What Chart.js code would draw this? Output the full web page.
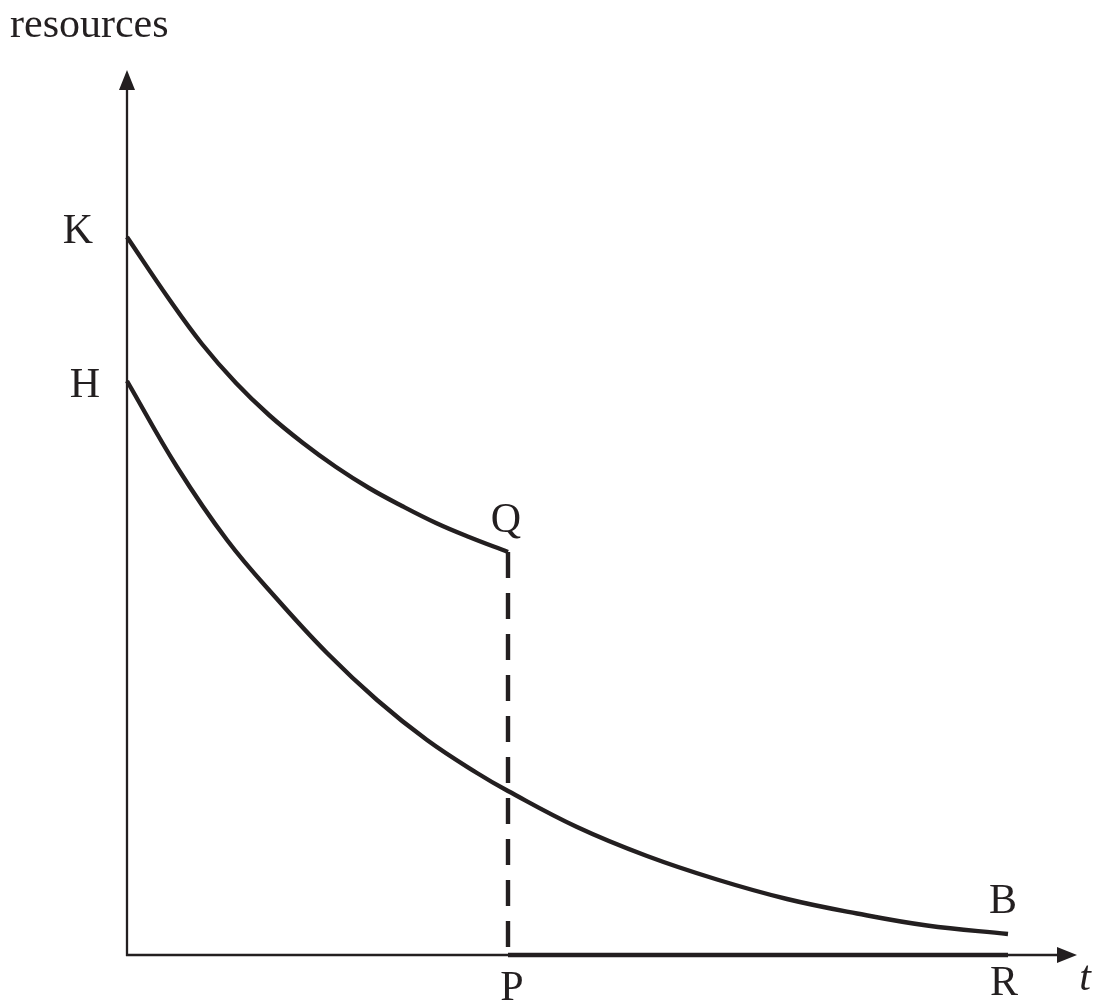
<!DOCTYPE html>
<html>
<head>
<meta charset="utf-8">
<script src="https://cdn.jsdelivr.net/npm/chart.js@4/dist/chart.umd.min.js"></script>
<style>
  html, body { margin: 0; padding: 0; background: #fff; }
  canvas { display: block; }
</style>
</head>
<body>
<canvas id="resChart" width="1096" height="1006"></canvas>
<script>
// Time values (t) and resource levels
const upperT = [0, 4.2, 7.5, 10.9, 14.2, 17.6, 20.9, 24.2, 27.5, 30.9, 34.2, 38.1];
const upperRes = [71.8, 65.6, 61.1, 57.2, 54.0, 51.2, 48.8, 46.7, 44.9, 43.2, 41.8, 40.3];

const lowerT = [0, 5, 10, 15, 20, 25, 30, 35, 38.1, 45, 52, 59, 66, 73, 80, 88.1];
const lowerRes = [57.4, 48.8, 41.5, 35.6, 30.2, 25.5, 21.5, 18.2, 16.4, 12.8, 9.9, 7.55, 5.6, 4.15, 2.95, 2.1];

// Named points on the diagram
const tP = 38.1;
const tR = 88.1;
const resQ = 40.3;

const axisMaxT = 95.3;
const axisMaxRes = 88.5;

const ink = '#231f20';

function toPoints(xs, ys) {
  return xs.map((x, i) => ({ x: x, y: ys[i] }));
}

// Axes with arrowheads, drawn under the curves
const axesPlugin = {
  id: 'axes',
  beforeDatasetsDraw(chart) {
    const ctx = chart.ctx;
    const xs = chart.scales.x, ys = chart.scales.y;
    const x0 = xs.getPixelForValue(0), y0 = ys.getPixelForValue(0);
    const xEnd = xs.getPixelForValue(axisMaxT), yEnd = ys.getPixelForValue(axisMaxRes);
    ctx.save();
    ctx.strokeStyle = ink;
    ctx.fillStyle = ink;
    ctx.lineWidth = 2.3;
    ctx.beginPath();
    ctx.moveTo(x0, y0 + 1);
    ctx.lineTo(x0, yEnd + 10);
    ctx.moveTo(x0 - 1, y0);
    ctx.lineTo(xEnd - 10, y0);
    ctx.stroke();
    // y arrow
    ctx.beginPath();
    ctx.moveTo(x0, yEnd);
    ctx.lineTo(x0 - 8, yEnd + 20);
    ctx.lineTo(x0 + 8, yEnd + 20);
    ctx.closePath();
    ctx.fill();
    // x arrow
    ctx.beginPath();
    ctx.moveTo(xEnd - 3, y0);
    ctx.lineTo(xEnd - 23, y0 - 8);
    ctx.lineTo(xEnd - 23, y0 + 8);
    ctx.closePath();
    ctx.fill();
    ctx.restore();
  }
};

// Letter labels placed next to the named points
const labelPlugin = {
  id: 'labels',
  afterDatasetsDraw(chart) {
    const ctx = chart.ctx;
    const xs = chart.scales.x, ys = chart.scales.y;
    const px = v => xs.getPixelForValue(v);
    const py = v => ys.getPixelForValue(v);
    ctx.save();
    ctx.fillStyle = ink;
    ctx.font = '42px "Liberation Serif", "Times New Roman", serif';
    ctx.textBaseline = 'alphabetic';
    ctx.textAlign = 'left';
    ctx.fillText('resources', 10, 37);
    ctx.textAlign = 'center';
    ctx.fillText('K', px(0) - 49, py(upperRes[0]) + 6);
    ctx.fillText('H', px(0) - 42, py(lowerRes[0]) + 16);
    ctx.fillText('Q', px(tP) - 2, py(resQ) - 20);
    ctx.fillText('P', px(tP) + 4, py(0) + 45);
    ctx.fillText('B', px(tR) - 5, py(lowerRes[lowerRes.length - 1]) - 21);
    ctx.fillText('R', px(tR) - 4, py(0) + 40);
    ctx.font = 'italic 42px "Liberation Serif", "Times New Roman", serif';
    ctx.fillText('t', px(axisMaxT) + 5, py(0) + 35);
    ctx.restore();
  }
};

const lineBase = {
  showLine: true,
  borderColor: ink,
  backgroundColor: ink,
  pointRadius: 0,
  fill: false,
  clip: false,
  borderCapStyle: 'butt',
  borderJoinStyle: 'miter'
};

new Chart(document.getElementById('resChart'), {
  type: 'scatter',
  data: {
    datasets: [
      Object.assign({}, lineBase, {
        label: 'upper',
        data: toPoints(upperT, upperRes),
        borderWidth: 4.4,
        tension: 0.4
      }),
      Object.assign({}, lineBase, {
        label: 'lower',
        data: toPoints(lowerT, lowerRes),
        borderWidth: 4.4,
        tension: 0.4
      }),
      Object.assign({}, lineBase, {
        label: 'drop',
        data: [{ x: tP, y: resQ }, { x: tP, y: 0 }],
        borderWidth: 4.4,
        borderDash: [26, 15]
      }),
      Object.assign({}, lineBase, {
        label: 'PR',
        data: [{ x: tP, y: 0 }, { x: tR, y: 0 }],
        borderWidth: 4.6
      })
    ]
  },
  options: {
    responsive: false,
    animation: false,
    events: [],
    layout: { padding: { left: 127, right: 16, top: 70, bottom: 51 } },
    plugins: {
      legend: { display: false },
      tooltip: { enabled: false },
      title: { display: false }
    },
    scales: {
      x: { type: 'linear', min: 0, max: axisMaxT, display: false },
      y: { type: 'linear', min: 0, max: axisMaxRes, display: false }
    }
  },
  plugins: [axesPlugin, labelPlugin]
});
</script>
</body>
</html>
